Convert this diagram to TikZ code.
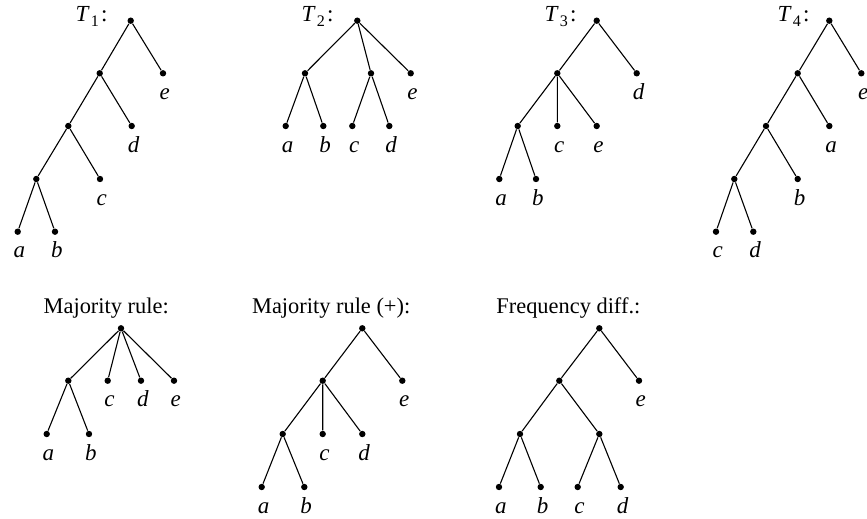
\documentclass[tikz,border=0pt]{standalone}
\usepackage{fontspec}
\setmainfont{Liberation Serif}
\newcommand\tname[1]{\textit{T}\kern0.6pt\raisebox{-0.5pt}{\textsubscript{#1}}\kern0.6pt:}
\begin{document}
\begin{tikzpicture}[x=0.5pt,y=-0.5pt,
  dot/.style={circle,fill=black,draw=none,inner sep=0pt,minimum size=3.2pt},
  lbl/.style={anchor=base,inner sep=0pt,font=\fontsize{11.5}{13}\selectfont\itshape},
  tlbl/.style={anchor=base east,inner sep=0pt,font=\fontsize{11.5}{13}\selectfont},
  ttl/.style={anchor=base west,inner sep=0pt,font=\fontsize{11.2}{13}\selectfont},
  edge/.style={draw=black,line width=0.55pt}]
\useasboundingbox (0,0) rectangle (867,519);
\newcommand\inode[2]{\node[dot] (#1) at (#2) {};}
\newcommand\leaf[3]{\node[dot] (#1) at (#2) {};
  \node[lbl] (#1l) at ([xshift=0.9pt,yshift=-13pt]#1.center) {#3};}
% ---------- T1 ----------
\inode{t1r}{130.7,20.7}
\inode{t1n1}{99.7,73.3}
\inode{t1n2}{68.3,126}
\inode{t1n3}{36.3,179}
\leaf{t1e}{163,73.3}{e}
\leaf{t1d}{131.7,126}{d}
\leaf{t1c}{100,179}{c}
\leaf{t1a}{17.7,231.7}{a}
\leaf{t1b}{55,231.7}{b}
\node[tlbl] (t1t) at (108,22) {\tname{1}};
\path[edge] (t1r)--(t1n1) (t1r)--(t1e) (t1n1)--(t1n2) (t1n1)--(t1d)
  (t1n2)--(t1n3) (t1n2)--(t1c) (t1n3)--(t1a) (t1n3)--(t1b);
% ---------- T2 ----------
\inode{t2r}{357.3,20.7}
\inode{t2n1}{305,73.3}
\inode{t2n2}{371,73.3}
\leaf{t2e}{410.7,73.3}{e}
\leaf{t2a}{285.7,126}{a}
\leaf{t2b}{323.3,126}{b}
\leaf{t2c}{352.3,126}{c}
\leaf{t2d}{389.3,126}{d}
\node[tlbl] (t2t) at (334,22) {\tname{2}};
\path[edge] (t2r)--(t2n1) (t2r)--(t2n2) (t2r)--(t2e) (t2n1)--(t2a) (t2n1)--(t2b)
  (t2n2)--(t2c) (t2n2)--(t2d);
% ---------- T3 ----------
\inode{t3r}{596.7,20.7}
\inode{t3n1}{557.3,73.3}
\inode{t3n2}{517.7,126}
\leaf{t3d}{636.7,73.3}{d}
\leaf{t3c}{557.3,126}{c}
\leaf{t3e}{596.7,126}{e}
\leaf{t3a}{499.3,179}{a}
\leaf{t3b}{536,179}{b}
\node[tlbl] (t3t) at (577,22) {\tname{3}};
\path[edge] (t3r)--(t3n1) (t3r)--(t3d) (t3n1)--(t3n2) (t3n1)--(t3c) (t3n1)--(t3e)
  (t3n2)--(t3a) (t3n2)--(t3b);
% ---------- T4 ----------
\inode{t4r}{829.3,20.7}
\inode{t4n1}{797.7,73.3}
\inode{t4n2}{766,126}
\inode{t4n3}{734.3,179}
\leaf{t4e}{861.3,73.3}{e}
\leaf{t4a}{829.3,126}{a}
\leaf{t4b}{797.7,179}{b}
\leaf{t4c}{716,231.7}{c}
\leaf{t4d}{753.3,231.7}{d}
\node[tlbl] (t4t) at (810,22) {\tname{4}};
\path[edge] (t4r)--(t4n1) (t4r)--(t4e) (t4n1)--(t4n2) (t4n1)--(t4a)
  (t4n2)--(t4n3) (t4n2)--(t4b) (t4n3)--(t4c) (t4n3)--(t4d);
% ---------- Majority rule ----------
\inode{mr}{121,328.3}
\inode{mn1}{68.3,380.7}
\leaf{mc}{107.7,380.7}{c}
\leaf{md}{141,380.7}{d}
\leaf{me}{174,380.7}{e}
\leaf{ma}{46.7,434}{a}
\leaf{mb}{89,434}{b}
\node[ttl] (mt) at (43.3,313.3) {Majority rule:};
\path[edge] (mr)--(mn1) (mr)--(mc) (mr)--(md) (mr)--(me) (mn1)--(ma) (mn1)--(mb);
% ---------- Majority rule (+) ----------
\inode{pr}{362.3,328.3}
\inode{pn1}{322.7,380.7}
\inode{pn2}{282.7,434}
\leaf{pe}{402.3,380.7}{e}
\leaf{pc}{322.7,434}{c}
\leaf{pd}{362.3,434}{d}
\leaf{pa}{261.7,487}{a}
\leaf{pb}{304.3,487}{b}
\node[ttl] (pt) at (251.7,313.3) {Majority rule (+):};
\path[edge] (pr)--(pn1) (pr)--(pe) (pn1)--(pn2) (pn1)--(pc) (pn1)--(pd)
  (pn2)--(pa) (pn2)--(pb);
% ---------- Frequency diff. ----------
\inode{fr}{599.3,328.3}
\inode{fn1}{559.3,380.7}
\inode{fn2}{520,434}
\inode{fn3}{599.3,434}
\leaf{fe}{639,380.7}{e}
\leaf{fa}{499,487}{a}
\leaf{fb}{540.7,487}{b}
\leaf{fc}{577.7,487}{c}
\leaf{fd}{620.7,487}{d}
\node[ttl] (ft) at (496,313.3) {Frequency diff.:};
\path[edge] (fr)--(fn1) (fr)--(fe) (fn1)--(fn2) (fn1)--(fn3)
  (fn2)--(fa) (fn2)--(fb) (fn3)--(fc) (fn3)--(fd);
\end{tikzpicture}
\end{document}
